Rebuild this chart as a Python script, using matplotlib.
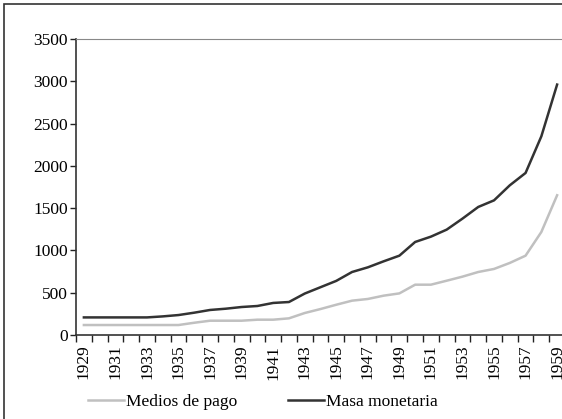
import matplotlib
matplotlib.use("Agg")
import matplotlib.pyplot as plt
from matplotlib.patches import Rectangle
import numpy as np

years = list(range(1929, 1960))
medios = [118, 118, 118, 118, 118, 118, 118, 145, 169, 169, 169, 181, 181, 197,
          260, 307, 358, 406, 426, 465, 492, 595, 595, 642, 690, 745, 781, 852,
          938, 1218, 1652]
masa = [208, 208, 208, 208, 208, 220, 236, 264, 296, 311, 331, 343, 379, 390,
        490, 565, 640, 745, 800, 871, 938, 1100, 1163, 1246, 1376, 1514, 1592,
        1770, 1916, 2349, 2961]

plt.rcParams['font.family'] = ['Liberation Serif', 'DejaVu Serif']
plt.rcParams['font.size'] = 12.5

fig = plt.figure(figsize=(5.62, 4.19), dpi=100)
# plot area runs a little past the right edge, as in the original
ax = fig.add_axes([76/562, 84/419, 489/562, 296/419])

x = np.arange(len(years))
ax.plot(x, medios, color='#c0c0c0', lw=1.8, label='Medios de pago')
ax.plot(x, masa, color='#333333', lw=1.8, label='Masa monetaria')

ax.set_xlim(-0.5, len(years) - 0.5)
ax.set_ylim(0, 3500)
ax.set_yticks(np.arange(0, 3501, 500))

# labels on every other year, tick marks between categories
ax.set_xticks(x[::2])
ax.set_xticklabels([str(y) for y in years[::2]], rotation=90)
ax.set_xticks(np.arange(len(years) + 1) - 0.5, minor=True)
ax.tick_params(axis='x', which='major', length=0, pad=7)
ax.tick_params(axis='x', which='minor', length=5, width=1, color='#222222', direction='out')
ax.tick_params(axis='y', length=4, width=1, color='#222222', pad=2)

ax.spines['right'].set_visible(False)
ax.spines['top'].set_color('#888888')
ax.spines['left'].set_color('#333333')
ax.spines['bottom'].set_color('#333333')
ax.spines['left'].set_linewidth(1.2)
ax.spines['bottom'].set_linewidth(1.2)

fig.legend(loc='center left', bbox_to_anchor=(88/562, 1 - 402/419), ncol=2,
           frameon=False, handlelength=2.1, handletextpad=0.1,
           columnspacing=2.9, borderaxespad=0, borderpad=0, fontsize=12.5)

# outer chart border (right/bottom edges fall outside the picture)
fig.patches.append(Rectangle((4/562, -0.05), 1.1, 1 - 4/419 + 0.05,
                             transform=fig.transFigure, fill=False,
                             edgecolor='#333333', lw=1.2))

fig.savefig('out.png', dpi=100)
